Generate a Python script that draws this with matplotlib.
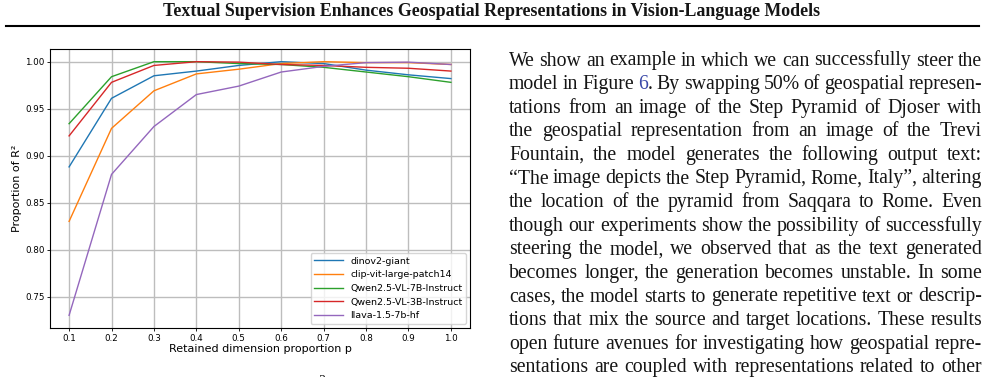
import matplotlib
matplotlib.use('Agg')
import matplotlib.pyplot as plt
from matplotlib.lines import Line2D

# data
p = [0.1, 0.2, 0.3, 0.4, 0.5, 0.6, 0.7, 0.8, 0.9, 1.0]
dinov2 = [0.888, 0.961, 0.985, 0.990, 0.996, 1.000, 0.998, 0.991, 0.986, 0.982]
clip = [0.830, 0.929, 0.969, 0.987, 0.992, 0.998, 1.000, 0.999, 0.999, 0.997]
qwen7b = [0.934, 0.984, 1.000, 1.000, 0.998, 0.997, 0.994, 0.989, 0.984, 0.978]
qwen3b = [0.921, 0.978, 0.996, 1.000, 0.9995, 0.997, 0.996, 0.994, 0.993, 0.990]
llava = [0.730, 0.880, 0.931, 0.965, 0.974, 0.989, 0.995, 0.999, 0.9995, 0.997]
models = ['dinov2-giant', 'clip-vit-large-patch14', 'Qwen2.5-VL-7B-Instruct',
          'Qwen2.5-VL-3B-Instruct', 'llava-1.5-7b-hf']

title = 'Textual Supervision Enhances Geospatial Representations in Vision-Language Models'
body = [
    'We show an example in which we can successfully steer the',
    'model in Figure 6. By swapping 50% of geospatial represen-',
    'tations from an image of the Step Pyramid of Djoser with',
    'the geospatial representation from an image of the Trevi',
    'Fountain, the model generates the following output text:',
    '\u201cThe image depicts the Step Pyramid, Rome, Italy\u201d, altering',
    'the location of the pyramid from Saqqara to Rome. Even',
    'though our experiments show the possibility of successfully',
    'steering the model, we observed that as the text generated',
    'becomes longer, the generation becomes unstable. In some',
    'cases, the model starts to generate repetitive text or descrip-',
    'tions that mix the source and target locations. These results',
    'open future avenues for investigating how geospatial repre-',
    'sentations are coupled with representations related to other',
]

W, H = 988, 377
ink = '#151515'
link = '#3a48a8'

fig = plt.figure(figsize=(W / 100, H / 100), dpi=100)

# the chart
ax = fig.add_axes([50 / W, 1 - 328 / H, 420 / W, 279 / H])
for vals, name in zip([dinov2, clip, qwen7b, qwen3b, llava], models):
    ax.plot(p, vals, label=name, lw=1.0)
ax.set_xticks(p)
ax.grid(True, color='#bdbdbd', lw=1.0)
ax.tick_params(labelsize=6.3, length=2, width=0.6, pad=2)
ax.set_xlabel('Retained dimension proportion p', fontsize=8, labelpad=1)
ax.set_ylabel('Proportion of R\u00b2', fontsize=8, labelpad=2)
for s in ax.spines.values():
    s.set_linewidth(0.8)
ax.legend(loc='lower right', fontsize=6.8, handlelength=3, borderaxespad=0.4)

# page header
fig.text(492 / W, 1 - 12 / H, title, ha='center', va='center',
         family='Liberation Serif', weight='bold', fontsize=12.9, color=ink)
fig.add_artist(Line2D([6 / W, 979 / W], [1 - 26 / H] * 2, color='black', lw=1.5))

# body text, justified by hand
renderer = fig.canvas.get_renderer()
x0, x1 = 509, 982


def word_pieces(w):
    if w == '6.':
        return [('6', link), ('.', ink)]
    return [(w, ink)]


for i, line in enumerate(body):
    y = 1 - (65.5 + i * 23.6) / H
    words = []
    for w in line.split(' '):
        arts = []
        for s, c in word_pieces(w):
            t = fig.text(0, y, s, family='Liberation Serif', fontsize=14.2,
                         va='baseline', color=c)
            arts.append((t, t.get_window_extent(renderer).width))
        words.append(arts)
    total = sum(wd for arts in words for _, wd in arts)
    gap = (x1 - x0 - total) / (len(words) - 1)
    x = x0
    for arts in words:
        for t, wd in arts:
            t.set_x(x / W)
            x += wd
        x += gap

# page number, cut off at the bottom
fig.text(322 / W, 1 - 385 / H, '3', ha='center', va='baseline',
         family='Liberation Serif', fontsize=10, color=ink)

plt.savefig('out.png', dpi=100)
